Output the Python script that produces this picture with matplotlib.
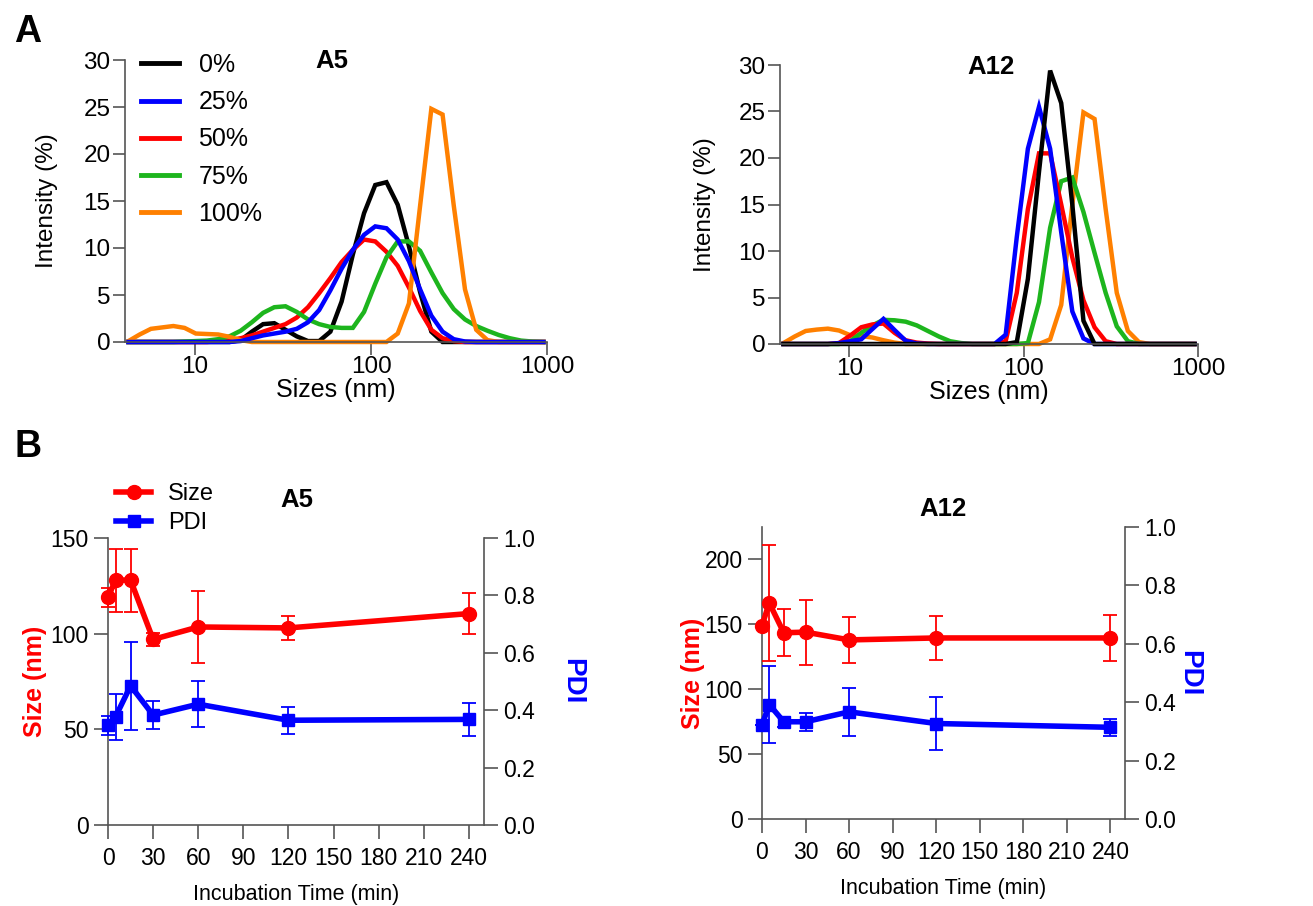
import matplotlib
matplotlib.use("Agg")
import matplotlib.pyplot as plt
from matplotlib.lines import Line2D
from matplotlib.ticker import FixedLocator, NullLocator, FuncFormatter

plt.rcParams['font.family'] = ['Liberation Sans', 'DejaVu Sans']

# ---------------- data ----------------
sizes_nm = [4.187, 4.849, 5.615, 6.503, 7.531, 8.721, 10.10, 11.70, 13.54, 15.69,
            18.17, 21.04, 24.36, 28.21, 32.67, 37.84, 43.82, 50.75, 58.77, 68.06,
            78.82, 91.28, 105.7, 122.4, 141.8, 164.2, 190.1, 220.2, 255.0, 295.3,
            342.0, 396.1, 458.7, 531.2, 615.1, 712.4, 825.0, 955.4]

series_labels = ['0%', '25%', '50%', '75%', '100%']

a5_0 = [0, 0, 0, 0, 0, 0, 0, 0, 0, 0,
        0.2, 1.1, 1.9, 2.0, 1.3, 0.6, 0.1, 0.1, 1.1, 4.3,
        9.3, 13.7, 16.7, 17.0, 14.6, 10.2, 5.3, 1.1, 0, 0,
        0, 0, 0, 0, 0, 0, 0, 0]
a5_25 = [0, 0, 0, 0, 0, 0, 0, 0, 0, 0,
         0.1, 0.4, 0.7, 0.9, 1.1, 1.4, 2.1, 3.4, 5.5, 7.8,
         9.8, 11.4, 12.3, 12.1, 10.9, 8.6, 5.6, 2.8, 1.1, 0.3,
         0.05, 0, 0, 0, 0, 0, 0, 0]
a5_50 = [0, 0, 0, 0, 0, 0, 0, 0, 0.1, 0.2,
         0.4, 0.7, 1.1, 1.5, 1.9, 2.6, 3.7, 5.2, 6.8, 8.5,
         9.8, 10.9, 10.7, 9.6, 8.1, 5.8, 3.3, 1.3, 0.4, 0.1,
         0, 0, 0, 0, 0, 0, 0, 0]
a5_75 = [0, 0, 0, 0, 0, 0.05, 0.1, 0.15, 0.3, 0.6,
         1.2, 2.1, 3.1, 3.7, 3.8, 3.2, 2.4, 1.9, 1.6, 1.5,
         1.5, 3.2, 6.2, 9.0, 10.7, 10.7, 9.7, 7.4, 5.2, 3.5,
         2.4, 1.7, 1.2, 0.75, 0.4, 0.15, 0.05, 0]
a5_100 = [0.1, 0.8, 1.4, 1.55, 1.7, 1.5, 0.9, 0.85, 0.8, 0.55,
          0.2, 0, 0, 0, 0, 0, 0, 0, 0, 0,
          0, 0, 0, 0, 0.9, 4.1, 14.5, 24.8, 24.2, 14.5,
          5.6, 1.3, 0.2, 0, 0, 0, 0, 0]

a12_0 = [0, 0, 0, 0, 0, 0, 0, 0, 0, 0,
         0, 0, 0, 0, 0, 0, 0, 0, 0, 0,
         0, 0.2, 7.0, 18.5, 29.4, 25.9, 15.0, 2.5, 0, 0,
         0, 0, 0, 0, 0, 0, 0, 0]
a12_25 = [0, 0, 0, 0, 0, 0.1, 0.3, 0.5, 1.6, 2.7,
          1.5, 0.35, 0.05, 0, 0, 0, 0, 0, 0, 0,
          1.0, 11.5, 21.0, 25.5, 21.0, 12.0, 3.5, 0.6, 0, 0,
          0, 0, 0, 0, 0, 0, 0, 0]
a12_50 = [0, 0, 0, 0, 0, 0.1, 0.9, 1.8, 2.1, 2.2,
          1.2, 0.4, 0.15, 0.05, 0, 0, 0, 0, 0, 0,
          0.3, 5.5, 14.5, 20.5, 20.5, 15.0, 9.3, 4.7, 1.8, 0.3,
          0, 0, 0, 0, 0, 0, 0, 0]
a12_75 = [0, 0, 0, 0, 0, 0, 0.3, 1.2, 2.0, 2.6,
          2.55, 2.4, 2.0, 1.4, 0.8, 0.3, 0.1, 0, 0, 0,
          0, 0, 0.1, 4.5, 12.5, 17.5, 17.9, 14.2, 9.8, 5.5,
          1.9, 0.3, 0, 0, 0, 0, 0, 0]
a12_100 = [0.1, 0.8, 1.4, 1.55, 1.65, 1.45, 0.95, 0.85, 0.7, 0.4,
           0.15, 0, 0, 0, 0, 0, 0, 0, 0, 0,
           0, 0, 0, 0, 0.5, 4.2, 15.0, 24.9, 24.2, 14.5,
           5.5, 1.4, 0.2, 0, 0, 0, 0, 0]

time_min = [0, 5, 15, 30, 60, 120, 240]
a5_size = [119, 128, 128, 97, 103.5, 103, 110.5]
a5_size_err = [5, 16.5, 16.5, 3.5, 19, 6.3, 10.6]
a5_pdi = [0.348, 0.377, 0.485, 0.383, 0.421, 0.365, 0.368]
a5_pdi_err = [0.033, 0.08, 0.153, 0.05, 0.08, 0.047, 0.058]

a12_size = [149, 166.5, 143.5, 144, 138, 139.5, 139.5]
a12_size_err = [0, 45, 18, 25, 18, 17, 17.5]
a12_pdi = [0.322, 0.392, 0.333, 0.333, 0.367, 0.327, 0.314]
a12_pdi_err = [0.0, 0.133, 0.018, 0.03, 0.082, 0.092, 0.03]

colors = {'0%': '#000000', '25%': '#0000ff', '50%': '#ff0000',
          '75%': '#1db51d', '100%': '#ff8000'}

W, H = 1313, 906
fig = plt.figure(figsize=(W / 100, H / 100), dpi=100)


def rect(l, r, t, b):
    return [l / W, (H - b) / H, (r - l) / W, (b - t) / H]


SPINE = '#555555'


def style_dls(ax, ylab_x):
    ax.set_xscale('log')
    ax.set_xlim(4.0, 1000)
    ax.set_ylim(0, 30)
    ax.xaxis.set_major_locator(FixedLocator([10, 100, 1000]))
    ax.xaxis.set_minor_locator(NullLocator())
    ax.xaxis.set_major_formatter(FuncFormatter(lambda v, p: f'{int(round(v))}'))
    ax.set_yticks([0, 5, 10, 15, 20, 25, 30])
    for s in ['top', 'right']:
        ax.spines[s].set_visible(False)
    for s in ['left', 'bottom']:
        ax.spines[s].set_color(SPINE)
        ax.spines[s].set_linewidth(1.2)
    ax.tick_params(axis='both', direction='out', length=9, width=1.2,
                   color=SPINE, labelsize=17.5)
    ax.tick_params(axis='x', pad=1)
    ax.tick_params(axis='y', pad=1.5)
    ax.set_xlabel('Sizes (nm)', fontsize=18, labelpad=0)
    ax.set_ylabel('Intensity (%)', fontsize=17.5)
    ax.yaxis.set_label_coords(ylab_x, 0.5)


# ---------------- Panel A: A5 ----------------
ax1 = fig.add_axes(rect(125, 547, 60, 342))
style_dls(ax1, -0.159)
a5_data = {'0%': a5_0, '25%': a5_25, '50%': a5_50, '75%': a5_75, '100%': a5_100}
order_a5 = ['0%', '50%', '75%', '100%', '25%']
for k in order_a5:
    ax1.plot(sizes_nm, a5_data[k], color=colors[k], lw=3.2, clip_on=False,
             solid_joinstyle='miter')
ax1.text(0.49, 1.04, 'A5', transform=ax1.transAxes, fontsize=18.5,
         fontweight='bold', ha='center', va='top')
handles = [Line2D([], [], color=colors[k], lw=3.5) for k in series_labels]
fig.legend(handles, series_labels, loc='upper left',
           bbox_to_anchor=(141 / W, 1 - 53 / H), frameon=False, fontsize=18,
           handlelength=1.5, handletextpad=0.8, labelspacing=0.53,
           borderpad=0, borderaxespad=0)

# ---------------- Panel A: A12 ----------------
ax2 = fig.add_axes(rect(780, 1198, 65, 344))
style_dls(ax2, -0.153)
a12_data = {'0%': a12_0, '25%': a12_25, '50%': a12_50, '75%': a12_75, '100%': a12_100}
order_a12 = ['100%', '75%', '50%', '25%', '0%']
for k in order_a12:
    ax2.plot(sizes_nm, a12_data[k], color=colors[k], lw=3.2, clip_on=False,
             solid_joinstyle='miter')
ax2.text(0.505, 1.035, 'A12', transform=ax2.transAxes, fontsize=18.5,
         fontweight='bold', ha='center', va='top')


# ---------------- Panel B ----------------
def style_time(ax, axr, ymax, yticks, ylx, yrx):
    ax.set_xlim(0, 250)
    ax.set_ylim(0, ymax)
    axr.set_ylim(0, 1.0)
    ax.set_xticks([0, 30, 60, 90, 120, 150, 180, 210, 240])
    ax.set_yticks(yticks)
    axr.set_yticks([0.0, 0.2, 0.4, 0.6, 0.8, 1.0])
    axr.yaxis.set_major_formatter(FuncFormatter(lambda v, p: f'{v:.1f}'))
    for a in (ax, axr):
        a.spines['top'].set_visible(False)
        for s in ['left', 'bottom', 'right']:
            a.spines[s].set_color(SPINE)
            a.spines[s].set_linewidth(1.2)
    ax.spines['right'].set_visible(False)
    axr.spines['left'].set_visible(False)
    axr.spines['bottom'].set_visible(False)
    ax.tick_params(axis='both', direction='out', length=10, width=1.2,
                   color=SPINE, labelsize=16.5, pad=4)
    ax.tick_params(axis='x', pad=6)
    axr.tick_params(axis='y', direction='out', length=10, width=1.2,
                    color=SPINE, labelsize=16.5, pad=4)
    ax.set_xlabel('Incubation Time (min)', fontsize=15.5, labelpad=10)
    ax.set_ylabel('Size (nm)', fontsize=18, fontweight='bold', color='#ff0000')
    ax.yaxis.set_label_coords(ylx, 0.5)
    axr.set_ylabel('PDI', fontsize=20, fontweight='bold', color='#0000ff',
                   rotation=270, va='center')
    axr.yaxis.set_label_coords(yrx, 0.5)


def draw_time(ax, axr, size, size_err, pdi, pdi_err):
    axr.errorbar(time_min, pdi, yerr=pdi_err, color='#0000ff', marker='s', ms=9,
                 lw=4, elinewidth=1.3, capsize=5, capthick=1.3, clip_on=False,
                 zorder=3)
    ax.errorbar(time_min, size, yerr=size_err, color='#ff0000', marker='o', ms=10,
                lw=4, elinewidth=1.3, capsize=5, capthick=1.3, clip_on=False,
                zorder=3)


ax3 = fig.add_axes(rect(108, 484, 538, 825))
ax3r = ax3.twinx()
style_time(ax3, ax3r, 150, [0, 50, 100, 150], -0.162, 1.234)
draw_time(ax3, ax3r, a5_size, a5_size_err, a5_pdi, a5_pdi_err)
fig.text(297 / W, 1 - 500 / H, 'A5', fontsize=18.5, fontweight='bold',
         ha='center', va='center')
leg_handles = [Line2D([], [], color='#ff0000', marker='o', ms=10, lw=4),
               Line2D([], [], color='#0000ff', marker='s', ms=9, lw=4)]
fig.legend(leg_handles, ['Size', 'PDI'], loc='upper left',
           bbox_to_anchor=(116 / W, 1 - 483 / H), frameon=False, fontsize=17,
           handlelength=1.5, handletextpad=0.7, labelspacing=0.3,
           borderpad=0, borderaxespad=0)

ax4 = fig.add_axes(rect(762, 1125, 527, 819))
ax4r = ax4.twinx()
style_time(ax4, ax4r, 225, [0, 50, 100, 150, 200], -0.157, 1.176)
draw_time(ax4, ax4r, a12_size, a12_size_err, a12_pdi, a12_pdi_err)
fig.text(943 / W, 1 - 509 / H, 'A12', fontsize=18.5, fontweight='bold',
         ha='center', va='center')

# panel letters
fig.text(28 / W, 1 - 32 / H, 'A', fontsize=27, fontweight='bold',
         ha='center', va='center')
fig.text(28 / W, 1 - 447 / H, 'B', fontsize=27, fontweight='bold',
         ha='center', va='center')

fig.savefig('out.png', dpi=100)
